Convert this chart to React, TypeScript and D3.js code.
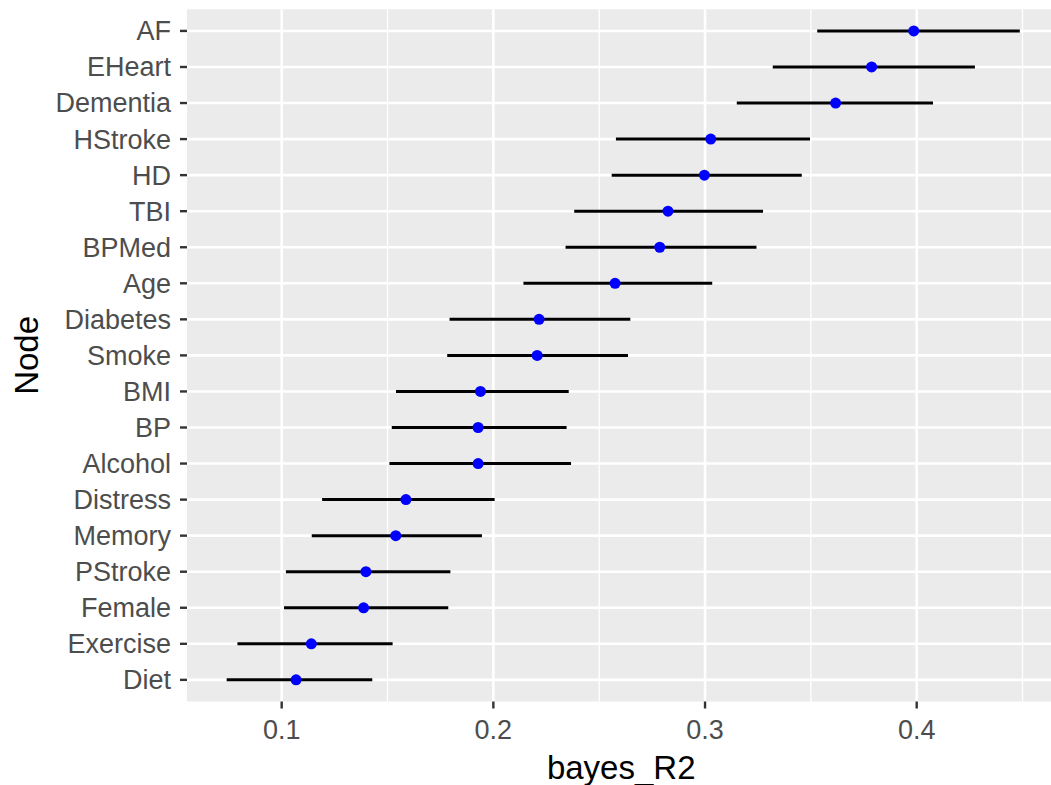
import React from "react";
import * as d3 from "d3";

const nodes = ["AF","EHeart","Dementia","HStroke","HD","TBI","BPMed","Age","Diabetes","Smoke","BMI","BP","Alcohol","Distress","Memory","PStroke","Female","Exercise","Diet"];
const estimate = [0.3986,0.3787,0.3617,0.3027,0.2997,0.2825,0.2786,0.2575,0.2216,0.2207,0.1939,0.1928,0.1928,0.1587,0.1539,0.1398,0.1387,0.1140,0.1068];
const lower = [0.3530,0.3320,0.3150,0.2579,0.2559,0.2382,0.2341,0.2142,0.1793,0.1782,0.1540,0.1520,0.1509,0.1191,0.1142,0.1020,0.1011,0.0791,0.0740];
const upper = [0.4487,0.4275,0.4077,0.3496,0.3457,0.3274,0.3243,0.3034,0.2647,0.2636,0.2356,0.2346,0.2367,0.2006,0.1946,0.1797,0.1787,0.1524,0.1428];
const xTicks = [0.1, 0.2, 0.3, 0.4];
const xMinor = [0.15, 0.25, 0.35, 0.45];

const W = 1051, H = 785;
const panel = { left: 187, top: 9.3, bottom: 701.5 };

export default function App() {
  const lo = d3.min(lower)!, hi = d3.max(upper)!;
  const pad = (hi - lo) * 0.05;
  const pxPerUnit = 2116.7;
  const right = panel.left + (hi - lo + 2 * pad) * pxPerUnit;
  const x = d3.scaleLinear().domain([lo - pad, hi + pad]).range([panel.left, right]);
  const y = d3.scalePoint<string>().domain(nodes).range([panel.top, panel.bottom]).padding(0.6);
  const font = "'Liberation Sans', Arial, Helvetica, sans-serif";
  return (
    <svg width={W} height={H} style={{ position: "absolute", left: 0, top: 0 }} fontFamily={font}>
      <rect x={0} y={0} width={W} height={H} fill="#fff" />
      <rect x={panel.left} y={panel.top} width={right - panel.left} height={panel.bottom - panel.top} fill="#EBEBEB" />
      {xMinor.map((t) => (
        <line key={"mn" + t} x1={x(t)} x2={x(t)} y1={panel.top} y2={panel.bottom} stroke="#fff" strokeWidth={1.3} />
      ))}
      {xTicks.map((t) => (
        <line key={"mj" + t} x1={x(t)} x2={x(t)} y1={panel.top} y2={panel.bottom} stroke="#fff" strokeWidth={2.6} />
      ))}
      {nodes.map((n) => (
        <line key={"gy" + n} x1={panel.left} x2={right} y1={y(n)} y2={y(n)} stroke="#fff" strokeWidth={2.6} />
      ))}
      {nodes.map((n, i) => (
        <line key={"er" + n} x1={x(lower[i])} x2={x(upper[i])} y1={y(n)} y2={y(n)} stroke="#000" strokeWidth={3} />
      ))}
      {nodes.map((n, i) => (
        <circle key={"pt" + n} cx={x(estimate[i])} cy={y(n)} r={5.5} fill="#0000FF" />
      ))}
      {nodes.map((n) => (
        <g key={"yt" + n}>
          <line x1={panel.left - 7} x2={panel.left} y1={y(n)} y2={y(n)} stroke="#333" strokeWidth={2.4} />
          <text x={panel.left - 16} y={y(n)} dy="0.35em" textAnchor="end" fontSize={27} fill="#4D4D4D">{n}</text>
        </g>
      ))}
      {xTicks.map((t) => (
        <g key={"xt" + t}>
          <line x1={x(t)} x2={x(t)} y1={panel.bottom} y2={panel.bottom + 7} stroke="#333" strokeWidth={2.4} />
          <text x={x(t)} y={panel.bottom + 28} dy="0.35em" textAnchor="middle" fontSize={27} fill="#4D4D4D">{d3.format(".1f")(t)}</text>
        </g>
      ))}
      <text x={(panel.left + right) / 2 - 2} y={767} dy="0.35em" textAnchor="middle" fontSize={33} fill="#000">bayes_R2</text>
      <text transform={`translate(26,${(panel.top + panel.bottom) / 2}) rotate(-90)`} dy="0.35em" textAnchor="middle" fontSize={33} fill="#000">Node</text>
    </svg>
  );
}
